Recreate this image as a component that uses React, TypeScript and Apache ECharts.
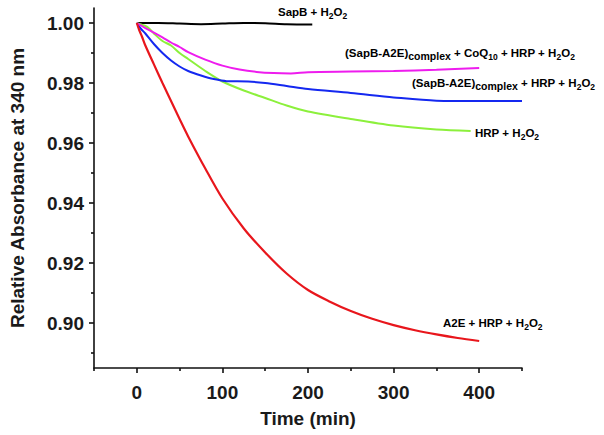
import React, { useEffect, useRef } from "react";
import * as echarts from "echarts";

const FONT = "'Liberation Sans', Arial, sans-serif";

const X_MAJOR = [0, 100, 200, 300, 400];
const X_MINOR = [-50, 50, 150, 250, 350, 450];
const Y_MAJOR = [0.9, 0.92, 0.94, 0.96, 0.98, 1.0];
const Y_MINOR = [0.89, 0.91, 0.93, 0.95, 0.97, 0.99];

const T_RED = [0, 3, 6, 10, 20, 30, 40, 50, 60, 80, 100, 125, 150, 175, 200, 225, 250, 275, 300, 325, 350, 375, 400];
const V_RED = [1.0, 0.9975, 0.9955, 0.9925, 0.9862, 0.98, 0.974, 0.968, 0.9622, 0.9515, 0.9415, 0.9315, 0.9235, 0.9165, 0.911, 0.9072, 0.904, 0.9014, 0.8993, 0.8976, 0.8962, 0.895, 0.894];

const T_BLACK = [0, 25, 50, 75, 100, 125, 150, 175, 205];
const V_BLACK = [1.0, 1.0, 0.9998, 0.9996, 0.9998, 1.0, 0.9999, 0.9996, 0.9995];

const T_MAGENTA = [0, 10, 20, 30, 40, 50, 60, 80, 100, 120, 140, 160, 180, 200, 250, 300, 350, 400];
const V_MAGENTA = [1.0, 0.9983, 0.9968, 0.9952, 0.9935, 0.992, 0.9903, 0.9878, 0.9858, 0.9845, 0.9837, 0.9833, 0.9832, 0.9836, 0.9838, 0.984, 0.9844, 0.985];

const T_BLUE = [0, 5, 10, 20, 30, 40, 50, 60, 75, 90, 105, 130, 150, 175, 200, 250, 300, 350, 400, 450];
const V_BLUE = [1.0, 0.998, 0.9965, 0.993, 0.99, 0.9875, 0.9855, 0.984, 0.9825, 0.9813, 0.9806, 0.9805, 0.98, 0.979, 0.978, 0.9767, 0.9752, 0.9741, 0.974, 0.974];

const T_GREEN = [0, 5, 10, 15, 20, 30, 40, 50, 60, 80, 100, 125, 150, 175, 200, 250, 300, 350, 390];
const V_GREEN = [1.0, 0.9995, 0.999, 0.998, 0.9965, 0.994, 0.9925, 0.99, 0.988, 0.984, 0.9805, 0.9775, 0.975, 0.9725, 0.9705, 0.968, 0.9658, 0.9645, 0.964];

const zip = (t: number[], v: number[]) => t.map((x, i) => [x, v[i]]);

const rich = {
  n: { fontSize: 11.5, fontWeight: "bold", fontFamily: FONT, color: "#111", lineHeight: 16 },
  s: { fontSize: 8.5, fontWeight: "bold", fontFamily: FONT, color: "#111", lineHeight: 9, verticalAlign: "bottom" },
  c: { fontSize: 10.5, fontWeight: "bold", fontFamily: FONT, color: "#111", lineHeight: 11, verticalAlign: "bottom" },
};

const label = (x: number, y: number, text: string) => ({
  type: "text",
  x,
  y,
  style: { text, rich, align: "left", verticalAlign: "top" },
});

export default function App() {
  const ref = useRef<HTMLDivElement>(null);
  useEffect(() => {
    if (!ref.current) return;
    const chart = echarts.init(ref.current, null, { renderer: "svg" });
    const axisColor = "#111";
    const lineStyle = { color: axisColor, width: 1.6 };
    const labelStyle = { fontSize: 19, fontWeight: "bold", fontFamily: FONT, color: "#1a1a1a" };
    const mk = (name: string, t: number[], v: number[], color: string, width = 2) => ({
      name,
      type: "line",
      data: zip(t, v),
      showSymbol: false,
      smooth: 0.3,
      lineStyle: { color, width },
      xAxisIndex: 0,
      yAxisIndex: 0,
    });
    chart.setOption({
      animation: false,
      backgroundColor: "#fff",
      grid: { left: 93, right: 82, top: 8, bottom: 67 },
      xAxis: [
        {
          type: "value",
          min: -50,
          max: 450,
          position: "bottom",
          name: "Time (min)",
          nameLocation: "middle",
          nameGap: 41,
          nameTextStyle: labelStyle,
          axisLine: { show: true, onZero: false, lineStyle },
          axisTick: { show: true, length: 5, lineStyle, customValues: X_MAJOR },
          axisLabel: { ...labelStyle, margin: 15, customValues: X_MAJOR, formatter: (v: number) => String(v) },
          splitLine: { show: false },
        },
        {
          type: "value",
          min: -50,
          max: 450,
          position: "bottom",
          axisLine: { show: false, onZero: false },
          axisTick: { show: true, length: 3, lineStyle, customValues: X_MINOR },
          axisLabel: { show: false },
          splitLine: { show: false },
        },
      ],
      yAxis: [
        {
          type: "value",
          min: 0.885,
          max: 1.005,
          position: "left",
          name: "Relative Absorbance at 340 nm",
          nameLocation: "middle",
          nameGap: 67,
          nameTextStyle: labelStyle,
          axisLine: { show: true, onZero: false, lineStyle },
          axisTick: { show: true, length: 5, lineStyle, customValues: Y_MAJOR },
          axisLabel: { ...labelStyle, margin: 10, customValues: Y_MAJOR, formatter: (v: number) => v.toFixed(2) },
          splitLine: { show: false },
        },
        {
          type: "value",
          min: 0.885,
          max: 1.005,
          position: "left",
          axisLine: { show: false, onZero: false },
          axisTick: { show: true, length: 3, lineStyle, customValues: Y_MINOR },
          axisLabel: { show: false },
          splitLine: { show: false },
        },
      ],
      series: [
        mk("SapB + H2O2", T_BLACK, V_BLACK, "#000000"),
        mk("HRP + H2O2", T_GREEN, V_GREEN, "#8cf03c"),
        mk("(SapB-A2E)complex + HRP + H2O2", T_BLUE, V_BLUE, "#1428f0"),
        mk("(SapB-A2E)complex + CoQ10 + HRP + H2O2", T_MAGENTA, V_MAGENTA, "#ee1cee"),
        mk("A2E + HRP + H2O2", T_RED, V_RED, "#e8161c", 2.2),
      ],
      graphic: [
        label(278, 4, "{n|SapB + H}{s|2}{n|O}{s|2}"),
        label(345, 45, "{n|(SapB-A2E)}{c|complex}{n| + CoQ}{s|10}{n| + HRP + H}{s|2}{n|O}{s|2}"),
        label(412, 75, "{n|(SapB-A2E)}{c|complex}{n| + HRP + H}{s|2}{n|O}{s|2}"),
        label(475, 125, "{n|HRP + H}{s|2}{n|O}{s|2}"),
        label(443, 315, "{n|A2E + HRP + H}{s|2}{n|O}{s|2}"),
      ],
    });
    return () => chart.dispose();
  }, []);
  return (
    <div
      ref={ref}
      style={{ position: "fixed", left: 0, top: 0, width: 604, height: 435, background: "#fff" }}
    />
  );
}
